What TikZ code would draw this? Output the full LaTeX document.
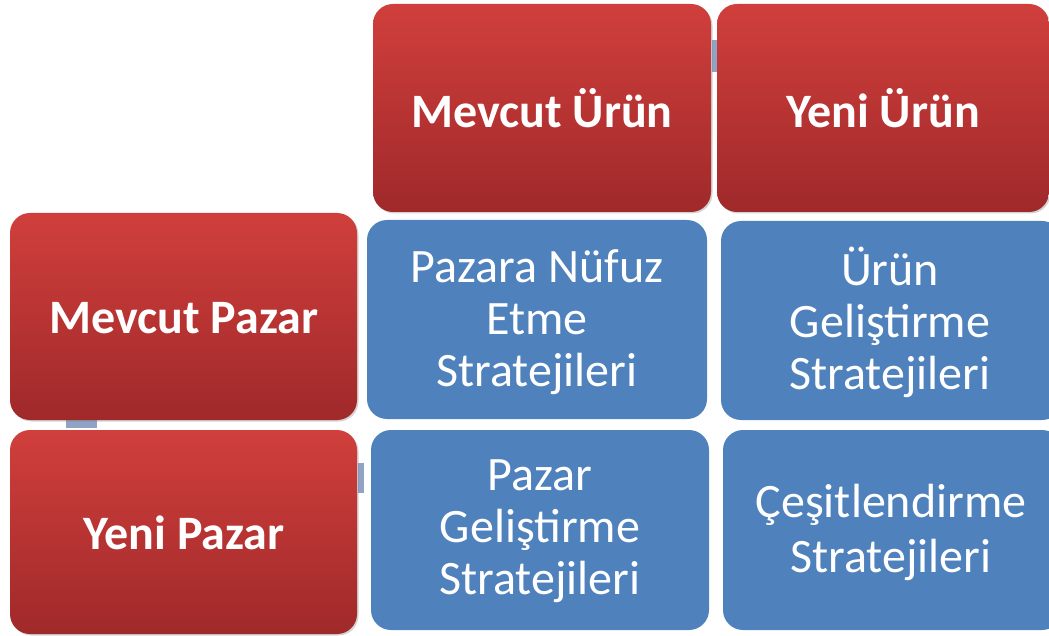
\documentclass[tikz,border=0pt]{standalone}
\usepackage{fontspec}
\setmainfont{Carlito}
\usetikzlibrary{shadows}
\definecolor{redtop}{HTML}{D03F3C}
\definecolor{redbot}{HTML}{A0292A}
\definecolor{bluebox}{HTML}{4F81BD}
\definecolor{conn}{HTML}{8FA4C4}
\tikzset{
  redbox/.style={rounded corners=20pt, top color=redtop, bottom color=redbot,
     drop shadow={shadow xshift=1.5pt, shadow yshift=-1.5pt, opacity=0.35}},
  bluebox/.style={rounded corners=20pt, fill=bluebox},
  lbl/.style={font=\fontsize{48}{52}\selectfont, text=white, align=center, inner sep=0pt},
  blbl/.style={lbl, font=\fontsize{48}{52}\selectfont\bfseries},
  connbox/.style={fill=conn}
}
\begin{document}
\begin{tikzpicture}[x=1pt,y=-1pt]
\useasboundingbox (0,0) rectangle (1049,636);
% connectors
\fill[connbox] (711.5,40) rectangle (716.5,72);
\fill[connbox] (66,420) rectangle (97,428);
\fill[connbox] (358,463) rectangle (364,493);
% red boxes
\path[redbox] (373,4) rectangle (711,212);
\path[redbox] (717,4) rectangle (1049,212);
\path[redbox] (10,213) rectangle (357,420);
\path[redbox] (10,430) rectangle (357,634);
% blue boxes
\path[bluebox] (367,220) rectangle (707,419);
\path[bluebox] (721,221) rectangle (1062,420);
\path[bluebox] (371,430) rectangle (709,630);
\path[bluebox] (723,430) rectangle (1062,630);
% labels
\node[blbl] (mu) at (542,108) {Mevcut Ürün};
\node[blbl] (yu) at (883,108) {Yeni Ürün};
\node[blbl] (mp) at (184,318) {Mevcut Pazar};
\node[blbl] (yp) at (184,533) {Yeni Pazar};
\node[lbl] (pn) at (537,322) {Pazara Nüfuz\\Etme\\Stratejileri};
\node[lbl] (ug) at (890,322) {Ürün\\Geliştirme\\Stratejileri};
\node[lbl] (pg) at (540,531) {Pazar\\Geliştirme\\Stratejileri};
\node[lbl] (cs) at (891,532) {Çeşitlendirme\\[3pt]Stratejileri};
\end{tikzpicture}
\end{document}
